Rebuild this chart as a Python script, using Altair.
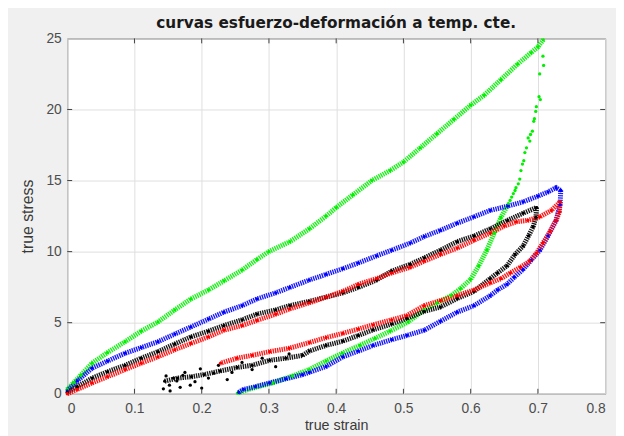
import altair as alt
import pandas as pd

# ---- values (true strain, true stress) ----
green_load_x = [0, 0.01, 0.02, 0.037, 0.06, 0.086, 0.11, 0.135, 0.16, 0.184, 0.21, 0.233, 0.26, 0.282, 0.30, 0.331, 0.36, 0.385, 0.40, 0.425, 0.453, 0.48, 0.50, 0.525, 0.55, 0.575, 0.60, 0.62, 0.645, 0.67, 0.69, 0.70, 0.708]
green_load_y = [0.3, 0.8, 1.3, 2.15, 2.9, 3.66, 4.4, 5.05, 5.9, 6.67, 7.3, 7.94, 8.7, 9.44, 10.0, 10.7, 11.6, 12.5, 13.1, 14.0, 15.0, 15.7, 16.3, 17.3, 18.3, 19.3, 20.3, 21.0, 22.1, 23.2, 24.0, 24.4, 24.9]
green_unload_x = [0.6537, 0.645, 0.635, 0.624, 0.612, 0.60, 0.585, 0.571, 0.55, 0.531, 0.507, 0.48, 0.458, 0.435, 0.409, 0.385, 0.36, 0.335, 0.306, 0.28, 0.253]
green_unload_y = [13.15, 12.4, 11.3, 10.1, 9.0, 8.05, 7.4, 6.9, 6.4, 5.9, 5.05, 4.4, 3.9, 3.4, 2.85, 2.3, 1.7, 1.25, 0.76, 0.45, 0.05]
green_steep_x = [0.7075, 0.7085, 0.7027, 0.7017, 0.7036, 0.6977, 0.6968, 0.6948, 0.6938, 0.6918, 0.689, 0.6855, 0.688, 0.683, 0.6806, 0.679, 0.677, 0.6748, 0.673, 0.6708, 0.6674, 0.666, 0.6635, 0.661, 0.6586, 0.656]
green_steep_y = [23.75, 23.1, 22.5, 20.9, 20.7, 20.2, 19.86, 19.35, 19.17, 18.47, 18.24, 18.0, 17.78, 17.3, 16.97, 16.4, 16.16, 15.7, 15.1, 14.77, 14.5, 14.3, 14.08, 13.84, 13.6, 13.38]

blue_load_x = [0, 0.015, 0.037, 0.06, 0.086, 0.11, 0.135, 0.16, 0.184, 0.21, 0.233, 0.26, 0.282, 0.31, 0.331, 0.36, 0.385, 0.41, 0.433, 0.46, 0.4825, 0.51, 0.531, 0.555, 0.58, 0.605, 0.629, 0.655, 0.678, 0.70, 0.715, 0.727, 0.734]
blue_load_y = [0.2, 0.9, 1.8, 2.3, 2.85, 3.25, 3.66, 4.2, 4.7, 5.25, 5.74, 6.2, 6.67, 7.1, 7.48, 8.0, 8.4, 8.8, 9.2, 9.7, 10.1, 10.6, 11.06, 11.5, 12.0, 12.45, 12.9, 13.2, 13.5, 13.9, 14.2, 14.5, 14.3]
blue_unload_x = [0.734, 0.733, 0.727, 0.715, 0.703, 0.69, 0.678, 0.665, 0.654, 0.64, 0.629, 0.605, 0.58, 0.555, 0.531, 0.505, 0.4825, 0.455, 0.433, 0.41, 0.385, 0.36, 0.35, 0.325, 0.301, 0.28, 0.262, 0.255]
blue_unload_y = [14.3, 13.3, 12.2, 11.1, 10.1, 9.4, 8.75, 8.2, 7.7, 7.3, 6.9, 6.2, 5.74, 5.1, 4.47, 4.1, 3.8, 3.4, 3.0, 2.6, 1.92, 1.5, 1.34, 1.05, 0.76, 0.5, 0.3, 0.1]

black_load_x = [0, 0.015, 0.037, 0.06, 0.086, 0.11, 0.135, 0.16, 0.184, 0.21, 0.233, 0.26, 0.282, 0.31, 0.331, 0.36, 0.385, 0.41, 0.433, 0.46, 0.4825, 0.51, 0.531, 0.555, 0.58, 0.605, 0.629, 0.655, 0.678, 0.698]
black_load_y = [0.1, 0.5, 1.1, 1.55, 2.0, 2.5, 2.96, 3.5, 4.0, 4.4, 4.8, 5.2, 5.6, 5.9, 6.2, 6.5, 6.8, 7.1, 7.48, 8.0, 8.63, 9.1, 9.56, 10.1, 10.7, 11.1, 11.6, 12.2, 12.7, 13.1]
black_unload_x = [0.698, 0.697, 0.693, 0.686, 0.678, 0.666, 0.654, 0.64, 0.629, 0.605, 0.58, 0.555, 0.531, 0.505, 0.4825, 0.455, 0.433, 0.41, 0.385, 0.36, 0.35, 0.325, 0.301, 0.275, 0.2525, 0.2275, 0.2035, 0.185, 0.164, 0.145]
black_unload_y = [13.1, 12.4, 11.75, 11.1, 10.4, 9.8, 9.0, 8.5, 8.1, 7.2, 6.7, 6.1, 5.8, 5.3, 4.9, 4.5, 4.1, 3.7, 3.4, 3.0, 2.7, 2.5, 2.35, 2.0, 1.85, 1.6, 1.35, 1.2, 1.1, 0.88]
black_spread_x = [0.143, 0.147, 0.152, 0.158, 0.168, 0.175, 0.19, 0.198, 0.21, 0.225, 0.2, 0.238, 0.153, 0.183, 0.163, 0.172, 0.218, 0.245, 0.26, 0.275, 0.29, 0.31, 0.33]
black_spread_y = [0.35, 1.25, 0.6, 1.1, 0.45, 1.5, 0.85, 1.75, 1.1, 2.0, 0.4, 1.0, 0.2, 0.6, 0.9, 1.3, 1.45, 1.5, 2.2, 1.7, 2.5, 1.9, 2.8]

red_load_x = [0, 0.015, 0.037, 0.06, 0.086, 0.11, 0.135, 0.16, 0.184, 0.21, 0.233, 0.26, 0.282, 0.31, 0.331, 0.36, 0.385, 0.41, 0.433, 0.46, 0.4825, 0.51, 0.531, 0.555, 0.58, 0.605, 0.629, 0.65, 0.668, 0.685, 0.703, 0.72, 0.733]
red_load_y = [0, 0.3, 0.76, 1.2, 1.7, 2.15, 2.6, 3.1, 3.54, 4.0, 4.47, 4.8, 5.16, 5.6, 5.97, 6.4, 6.8, 7.2, 7.7, 8.1, 8.5, 8.9, 9.33, 9.8, 10.25, 10.8, 11.3, 11.8, 12.1, 12.2, 12.45, 12.9, 13.5]
red_unload_x = [0.733, 0.732, 0.727, 0.718, 0.7075, 0.698, 0.688, 0.674, 0.659, 0.645, 0.629, 0.605, 0.58, 0.555, 0.531, 0.505, 0.4825, 0.455, 0.433, 0.41, 0.385, 0.36, 0.33, 0.301, 0.275, 0.2525, 0.228]
red_unload_y = [13.5, 12.8, 12.2, 11.4, 10.6, 9.9, 9.33, 8.9, 8.5, 8.1, 7.8, 7.3, 6.9, 6.55, 6.2, 5.5, 5.2, 4.85, 4.55, 4.25, 3.95, 3.6, 3.2, 2.96, 2.7, 2.5, 2.15]

series_names = ["verde", "azul", "negro", "rojo"]
series_colors = ["#00f000", "#0000ff", "#000000", "#ff0000"]

x_ticks = [0, 0.1, 0.2, 0.3, 0.4, 0.5, 0.6, 0.7, 0.8]
y_ticks = [0, 5, 10, 15, 20, 25]

title_text = "curvas esfuerzo-deformación a temp. cte."
x_title = "true strain"
y_title = "true stress"

# ---- tables ----
branches = [
    ("verde", "verde_carga", green_load_x, green_load_y),
    ("verde", "verde_descarga", green_unload_x, green_unload_y),
    ("azul", "azul_carga", blue_load_x, blue_load_y),
    ("azul", "azul_descarga", blue_unload_x, blue_unload_y),
    ("negro", "negro_carga", black_load_x, black_load_y),
    ("negro", "negro_descarga", black_unload_x, black_unload_y),
    ("rojo", "rojo_carga", red_load_x, red_load_y),
    ("rojo", "rojo_descarga", red_unload_x, red_unload_y),
]
rows = []
for s, b, xs_, ys_ in branches:
    for i, (xv, yv) in enumerate(zip(xs_, ys_)):
        rows.append({"serie": s, "rama": b, "orden": i, "strain": xv, "stress": yv})
lines_df = pd.DataFrame(rows)

dots_rows = [{"serie": "verde", "strain": xv, "stress": yv} for xv, yv in zip(green_steep_x, green_steep_y)]
dots_rows += [{"serie": "negro", "strain": xv, "stress": yv} for xv, yv in zip(black_spread_x, black_spread_y)]
dots_df = pd.concat([pd.DataFrame(dots_rows), lines_df[["serie", "strain", "stress"]]], ignore_index=True)

xt_df = pd.DataFrame({"strain": x_ticks[1:-1]})
yt_df = pd.DataFrame({"stress": y_ticks[1:-1]})

W, H = 545, 360
xs = alt.Scale(domain=[0, 0.8], nice=False, zero=False)
ys = alt.Scale(domain=[0, 25], nice=False, zero=False)
cs = alt.Scale(domain=series_names, range=series_colors)

x_axis = alt.Axis(values=x_ticks, format="~g", title=x_title, grid=True, ticks=False, tickSize=0,
                  domain=False, labelPadding=8, titleX=W / 2, titleY=36, titleBaseline="alphabetic",
                  titleAnchor="middle", titleFontSize=14.5)
y_axis = alt.Axis(values=y_ticks, format="~g", title=y_title, grid=True, ticks=False, tickSize=0,
                  domain=False, labelPadding=6, titleX=-40, titleY=H / 2, titleBaseline="middle",
                  titleAnchor="middle", titleFontSize=16)

X = alt.X("strain:Q", scale=xs, axis=x_axis, title=x_title)
Y = alt.Y("stress:Q", scale=ys, axis=y_axis, title=y_title)
X2 = alt.X("strain:Q", scale=xs, title=x_title)
Y2 = alt.Y("stress:Q", scale=ys, title=y_title)

bands = alt.Chart(lines_df).mark_line(strokeWidth=5, strokeDash=[1.4, 0.9], opacity=0.9).encode(
    x=X, y=Y,
    color=alt.Color("serie:N", scale=cs, legend=None),
    detail="rama:N",
    order="orden:Q",
)
dots = alt.Chart(dots_df).mark_circle(size=11, opacity=1).encode(
    x=X2, y=Y2,
    color=alt.Color("serie:N", scale=cs, legend=None),
)

tick_color = "#404040"
bottom_ticks = alt.Chart(xt_df).mark_rule(color=tick_color, strokeWidth=1).encode(
    x=X2, y=alt.value(H), y2=alt.value(H - 5))
top_ticks = alt.Chart(xt_df).mark_rule(color=tick_color, strokeWidth=1).encode(
    x=X2, y=alt.value(0), y2=alt.value(5))
left_ticks = alt.Chart(yt_df).mark_rule(color=tick_color, strokeWidth=1).encode(
    y=Y2, x=alt.value(0), x2=alt.value(5))
right_ticks = alt.Chart(yt_df).mark_rule(color=tick_color, strokeWidth=1).encode(
    y=Y2, x=alt.value(W), x2=alt.value(W - 5))

chart = alt.layer(bands, dots, bottom_ticks, top_ticks, left_ticks, right_ticks).properties(
    width=W, height=H,
    title=alt.TitleParams(title_text, font="DejaVu Sans", fontSize=15.5, fontWeight="bold",
                          color="#1a1a1a", anchor="middle", offset=-2),
    padding={"left": 60, "top": 28, "right": 11, "bottom": 40},
    autosize=alt.AutoSizeParams(type="none"),
    background="#f0f0f0",
).configure_view(
    fill="white", stroke="#404040", strokeWidth=1,
).configure_axis(
    labelFont="Liberation Sans", labelFontSize=14, labelColor="#4d4d4d",
    titleFont="Liberation Sans", titleColor="#3a3a3a", titleFontWeight="normal",
    gridColor="#dedede", gridWidth=1,
)

chart.save("out.html", embed_options={"renderer": "svg", "actions": False})
